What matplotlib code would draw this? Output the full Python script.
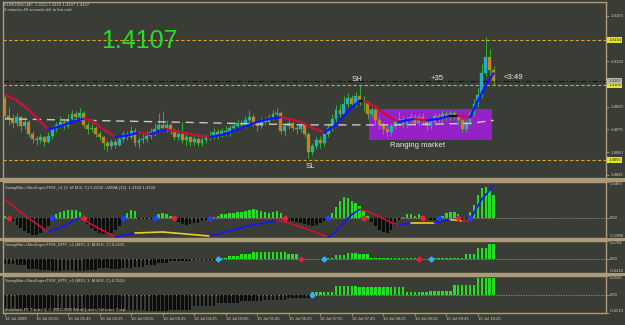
import numpy as np
import matplotlib
matplotlib.use('Agg')
import matplotlib.pyplot as plt
from matplotlib.patches import Rectangle
from matplotlib.collections import LineCollection

plt.rcParams['font.family'] = ['Liberation Sans', 'DejaVu Sans']

BG = '#3a3d36'
TAN = '#ad9a78'
TXT = '#d2cbbb'
WICK = '#2ec82e'
UP = '#22a8e8'
DOWN = '#e8741a'
GREEN = '#22dd22'

# EURUSDm M5, first bar 16 Jul 00:25
first_open = 1.4096
closes = [1.4084, 1.4082, 1.4079, 1.4083, 1.4077, 1.4080, 1.4072, 1.4069, 1.4068, 1.4070,
          1.4067, 1.4071, 1.4075, 1.4078, 1.4080, 1.4077, 1.4082, 1.4085, 1.4083, 1.4086,
          1.4078, 1.4075, 1.4076, 1.4072, 1.4070, 1.4066, 1.4064, 1.4067, 1.4065, 1.4069,
          1.4072, 1.4070, 1.4074, 1.4066, 1.4068, 1.4069, 1.4071, 1.4073, 1.4075, 1.4078,
          1.4076, 1.4078, 1.4074, 1.4070, 1.4072, 1.4068, 1.4070, 1.4067, 1.4069, 1.4066,
          1.4068, 1.4070, 1.4071, 1.4073, 1.4071, 1.4074, 1.4073, 1.4076, 1.4077, 1.4079,
          1.4078, 1.4081, 1.4083, 1.4079, 1.4077, 1.4081, 1.4080, 1.4083, 1.4085, 1.4086,
          1.4074, 1.4077, 1.4079, 1.4076, 1.4075, 1.4078, 1.4072, 1.4060, 1.4064, 1.4068,
          1.4066, 1.4072, 1.4076, 1.4082, 1.4088, 1.4085, 1.4092, 1.4096, 1.4092, 1.4097,
          1.4094, 1.4093, 1.4085, 1.4088, 1.4081, 1.4078, 1.4075, 1.4073, 1.4077, 1.4080,
          1.4082, 1.4078, 1.4081, 1.4083, 1.4079, 1.4083, 1.4081, 1.4077, 1.4080, 1.4084,
          1.4082, 1.4085, 1.4083, 1.4086, 1.4084, 1.4081, 1.4075, 1.4080, 1.4086, 1.4092,
          1.4098, 1.4112, 1.4123, 1.4114, 1.4107]
highs = [1.4098, 1.4090, 1.4085, 1.4086, 1.4084, 1.4083, 1.4081, 1.4074, 1.4071, 1.4072,
         1.4071, 1.4073, 1.4077, 1.4080, 1.4084, 1.4082, 1.4085, 1.4088, 1.4087, 1.4089,
         1.4087, 1.4080, 1.4079, 1.4077, 1.4074, 1.4071, 1.4068, 1.4069, 1.4069, 1.4071,
         1.4074, 1.4074, 1.4077, 1.4076, 1.4070, 1.4072, 1.4074, 1.4076, 1.4079, 1.4086,
         1.4087, 1.4081, 1.4079, 1.4076, 1.4075, 1.4080, 1.4072, 1.4071, 1.4071, 1.4070,
         1.4070, 1.4072, 1.4074, 1.4076, 1.4075, 1.4076, 1.4077, 1.4078, 1.4080, 1.4082,
         1.4081, 1.4084, 1.4088, 1.4085, 1.4081, 1.4083, 1.4083, 1.4085, 1.4088, 1.4089,
         1.4087, 1.4079, 1.4081, 1.4080, 1.4078, 1.4080, 1.4079, 1.4073, 1.4066, 1.4070,
         1.4071, 1.4074, 1.4079, 1.4085, 1.4091, 1.4092, 1.4097, 1.4099, 1.4098, 1.4100,
         1.4104, 1.4097, 1.4094, 1.4090, 1.4089, 1.4083, 1.4080, 1.4077, 1.4079, 1.4083,
         1.4087, 1.4084, 1.4083, 1.4086, 1.4085, 1.4085, 1.4086, 1.4082, 1.4082, 1.4086,
         1.4086, 1.4088, 1.4087, 1.4088, 1.4087, 1.4085, 1.4082, 1.4082, 1.4088, 1.4095,
         1.4102, 1.4118, 1.4136, 1.4128, 1.4117]
lows = [1.4081, 1.4078, 1.4076, 1.4077, 1.4074, 1.4075, 1.4070, 1.4066, 1.4065, 1.4066,
        1.4064, 1.4066, 1.4069, 1.4073, 1.4076, 1.4075, 1.4076, 1.4080, 1.4081, 1.4082,
        1.4076, 1.4072, 1.4073, 1.4070, 1.4068, 1.4062, 1.4061, 1.4062, 1.4063, 1.4064,
        1.4067, 1.4068, 1.4069, 1.4064, 1.4063, 1.4066, 1.4067, 1.4069, 1.4071, 1.4073,
        1.4074, 1.4073, 1.4072, 1.4068, 1.4068, 1.4066, 1.4065, 1.4064, 1.4065, 1.4064,
        1.4064, 1.4066, 1.4068, 1.4069, 1.4069, 1.4070, 1.4071, 1.4071, 1.4074, 1.4075,
        1.4076, 1.4076, 1.4079, 1.4077, 1.4074, 1.4076, 1.4078, 1.4079, 1.4081, 1.4083,
        1.4072, 1.4071, 1.4075, 1.4074, 1.4072, 1.4073, 1.4070, 1.4056, 1.4058, 1.4062,
        1.4063, 1.4064, 1.4070, 1.4074, 1.4080, 1.4083, 1.4084, 1.4090, 1.4089, 1.4090,
        1.4091, 1.4087, 1.4082, 1.4083, 1.4078, 1.4075, 1.4072, 1.4070, 1.4071, 1.4075,
        1.4078, 1.4076, 1.4076, 1.4079, 1.4077, 1.4077, 1.4078, 1.4074, 1.4075, 1.4078,
        1.4080, 1.4080, 1.4081, 1.4081, 1.4082, 1.4078, 1.4073, 1.4073, 1.4078, 1.4084,
        1.4090, 1.4096, 1.4110, 1.4110, 1.4104]

# fast smoothed MA (coloured by direction)
ma_bars = [0, 3, 6, 9, 11, 14, 17, 20, 22, 25, 28, 31, 34, 37, 41, 45, 49, 52, 56, 60,
           64, 67, 70, 72, 75, 78, 81, 84, 87, 90, 91, 94, 97, 100, 104, 107, 110, 113,
           115, 118, 120, 122, 124]
ma_vals = [1.4098, 1.4094, 1.4088, 1.4080, 1.4075, 1.4077, 1.4080, 1.4082, 1.4081, 1.4075,
           1.4070, 1.4071, 1.4073, 1.4072, 1.4075, 1.4073, 1.4071, 1.4070, 1.4072, 1.4076,
           1.4080, 1.4082, 1.4083, 1.4082, 1.4080, 1.4076, 1.4073, 1.4078, 1.4087, 1.4094,
           1.4094, 1.4090, 1.4084, 1.4080, 1.4082, 1.4081, 1.4082, 1.4084, 1.4084, 1.4083,
           1.4094, 1.4104, 1.4112]
# slow MA (grey dashed)
sma_bars = [0, 40, 76, 100, 118, 124]
sma_vals = [1.4082, 1.4080, 1.4078, 1.4078, 1.4079, 1.4081]

levels = [1.4134, 1.4104, 1.4055]
bid = 1.4107
price_ticks = [1.4150, 1.4120, 1.4090, 1.4075, 1.4060, 1.4045]

# UltraSuperTRIX M5
trix = [0.02, 0.01, -0.03, -0.07, -0.10, -0.13, -0.15, -0.17, -0.17, -0.15, -0.12, -0.08, -0.03,
        0.03, 0.05, 0.06, 0.07, 0.07, 0.07, 0.05,
        -0.02, -0.06, -0.10, -0.13, -0.15, -0.16, -0.16, -0.15, -0.12, -0.08, -0.03,
        0.04, 0.07, 0.06,
        -0.01, -0.01, -0.01, -0.01, 0.01,
        0.03, 0.04, 0.03, 0.02,
        -0.02, -0.04, -0.06, -0.07, -0.06, -0.05, -0.05, -0.03, -0.02, -0.01,
        0.01, 0.02, 0.03, 0.03, 0.04, 0.04, 0.05, 0.05, 0.06, 0.07, 0.08, 0.07, 0.06, 0.05,
        0.04, 0.05, 0.06, 0.04,
        -0.02, -0.03, -0.03, -0.04, -0.05, -0.06, -0.07, -0.08, -0.07, -0.05, -0.03, -0.01,
        0.04, 0.10, 0.16, 0.20, 0.19, 0.16, 0.14, 0.11, 0.07, 0.02,
        -0.04, -0.08, -0.12, -0.14, -0.15, -0.12, -0.07, -0.02,
        0.01, 0.03, 0.03, 0.02, 0.03, 0.02,
        -0.01, -0.02, -0.02, -0.01,
        0.02, 0.04, 0.05, 0.05, 0.03,
        -0.02, -0.01,
        0.05, 0.12, 0.22, 0.29, 0.30, 0.27, 0.22]
lwma_bars = [0, 5, 11, 15, 19, 23, 28, 33, 40, 43, 52, 58, 63, 69, 71, 75, 82, 83, 86, 88,
             90, 92, 95, 98, 100, 103, 109, 113, 116, 118, 119, 121, 124]
lwma_vals = [0.18, 0.02, -0.14, -0.08, 0.00, -0.09, -0.19, -0.15, -0.14, -0.15, -0.18, -0.12,
             -0.07, -0.03, -0.04, -0.09, -0.19, -0.17, -0.05, 0.03, 0.08, 0.06, 0.01, -0.05,
             -0.07, -0.05, -0.05, -0.02, -0.03, -0.04, 0.05, 0.18, 0.31]
trix_up = [12, 30, 38, 52, 82, 110, 118]
trix_dn = [1, 20, 43, 71, 91, 106, 115]

# MTF versions: one value per M15 / M30 candle
m15_vals = [-0.08, -0.10, -0.16, -0.18, -0.19, -0.18, -0.19, -0.17, -0.15, -0.16, -0.14,
            -0.12, -0.10, -0.06, -0.04, -0.03, -0.02, -0.02, 0.02, 0.04, 0.08, 0.10, 0.11,
            0.10, 0.07, -0.01, -0.01, 0.02, 0.06, 0.09, 0.07, 0.02, 0.01, 0.01, 0.01, -0.01,
            0.01, 0.01, 0.02, 0.07, 0.17, 0.23]
m15_up = [54, 81, 108]
m15_dn = [75, 105]
m30_vals = [-0.21, -0.22, -0.22, -0.23, -0.22, -0.21, -0.22, -0.21, -0.16, -0.11, -0.09,
            -0.08, -0.05, 0.03, 0.12, 0.10, 0.10, 0.04, 0.05, 0.13, 0.23]
m30_up = [78]

time_labels = ['16 Jul 2009', '16 Jul 01:05', '16 Jul 01:45', '16 Jul 02:25', '16 Jul 03:05',
               '16 Jul 03:45', '16 Jul 04:25', '16 Jul 05:05', '16 Jul 05:45', '16 Jul 06:25',
               '16 Jul 07:05', '16 Jul 07:45', '16 Jul 08:25', '16 Jul 09:05', '16 Jul 09:45',
               '16 Jul 10:25']

W, H = 625, 325
fig = plt.figure(figsize=(W / 100, H / 100), dpi=100, facecolor=BG)


def px_box(x0, y0, x1, y1):
    return [x0 / W, 1 - y1 / H, (x1 - x0) / W, (y1 - y0) / H]


def band(x0, y0, x1, y1):
    fig.add_artist(Rectangle((x0 / W, 1 - y1 / H), (x1 - x0) / W, (y1 - y0) / H,
                             transform=fig.transFigure, color=TAN, lw=0))


ax = fig.add_axes(px_box(3, 2, 606, 178))
ax2 = fig.add_axes(px_box(3, 182, 606, 238), sharex=ax)
ax3 = fig.add_axes(px_box(3, 241, 606, 273), sharex=ax)
ax4 = fig.add_axes(px_box(3, 276, 606, 313), sharex=ax)
band(0, 178, 625, 182)
band(0, 238, 625, 241)
band(0, 273, 625, 276)

for a in (ax, ax2, ax3, ax4):
    a.set_facecolor(BG)
    for s in a.spines.values():
        s.set_color(TAN)
        s.set_linewidth(1.0)
    a.yaxis.tick_right()
    a.tick_params(axis='y', colors=TAN, labelcolor=TXT, labelsize=3.1, length=2,
                  width=0.6, pad=1)
    a.tick_params(axis='x', bottom=False, labelbottom=False)

N = len(closes)
x = np.arange(N)
c = np.array(closes)
o = np.array([first_open] + closes[:-1])
hi = np.array(highs)
lo = np.array(lows)

ax.set_xlim(-0.5, 152.5)
ax.set_ylim(1.40430, 1.41590)


def coloured_line(a, bx, vals, up, down, flat, tol, lw):
    bx = np.asarray(bx, float)
    vals = np.asarray(vals, float)
    pts = np.column_stack([bx, vals])
    segs = np.stack([pts[:-1], pts[1:]], axis=1)
    slope = np.diff(vals) / np.diff(bx)
    cols = [up if s > tol else (down if s < -tol else flat) for s in slope]
    a.add_collection(LineCollection(segs, colors=cols, linewidths=lw, zorder=6,
                                    capstyle='round'))


# ranging-market box
ax.add_patch(Rectangle((92.4, 1.40683), 31.2, 0.0020, color='#9620c8', lw=0, zorder=1))

for lv in levels:
    ax.axhline(lv, color='#e0a030', lw=0.8, ls=(0, (3, 2)), zorder=2)
ax.axhline(bid, color='#111111', lw=0.8, ls=(0, (5, 2, 1, 2)), zorder=2)

# candles
ax.vlines(x, lo, hi, color=WICK, lw=0.6, zorder=3)
up = c >= o
ax.bar(x[up], (c - o)[up], bottom=o[up], width=0.72, color=UP, edgecolor=WICK,
       linewidth=0.25, zorder=4)
ax.bar(x[~up], (o - c)[~up], bottom=c[~up], width=0.72, color=DOWN, edgecolor=WICK,
       linewidth=0.25, zorder=4)

ax.plot(sma_bars, sma_vals, color='#c8c8c8', lw=1.0, ls=(0, (6, 4)), zorder=5)
coloured_line(ax, ma_bars, ma_vals, '#1414ff', '#c8103c', '#111111', 1e-6, 1.7)

ax.set_yticks(price_ticks)
ax.set_yticklabels([f'{p:.4f}' for p in price_ticks])
ytr = ax.get_yaxis_transform()
for lv in levels:
    ax.text(1.004, lv, f'{lv:.4f}', transform=ytr, fontsize=3.1, color='#303000',
            va='center', ha='left', clip_on=False,
            bbox=dict(fc='#e4e42a', ec='none', pad=0.7))
ax.text(1.004, bid, f'{bid:.4f}', transform=ytr, fontsize=3.1, color='#303030',
        va='center', ha='left', clip_on=False,
        bbox=dict(fc='#bdb8a8', ec='none', pad=0.7))

lab = dict(fontsize=5.6, color='#e8e8e8', ha='center', va='center', zorder=8)
ax.text(89.3, 1.41077, 'SH', **lab)
ax.text(77.4, 1.40503, 'SL', **lab)
ax.text(109.6, 1.41083, '+35', **lab)
ax.text(129.0, 1.41090, '<3:49', **lab)
ax.text(104.6, 1.40643, 'Ranging market', **lab)

fig.text(4 / W, 1 - 5 / H, 'EURUSDm,M5  1.4112 1.4116 1.4107 1.4107', fontsize=3.1,
         color=TXT, va='center', ha='left')
fig.text(4 / W, 1 - 10 / H, '3 minutes 49 seconds left to bar end', fontsize=3.1,
         color=TXT, va='center', ha='left')
fig.text(139 / W, 1 - 41 / H, '1.4107', fontsize=18, color='#22e022', va='center',
         ha='center')

# panel 2
t = np.array(trix)
ax2.set_ylim(-0.1986, 0.3460)
ax2.axhline(0, color='#9a9a8a', lw=0.6, ls=(0, (1.5, 1.5)), zorder=1)
ax2.bar(x, t, width=0.65, color=np.where(t >= 0, GREEN, '#0c0c0c'), lw=0, zorder=2)
coloured_line(ax2, lwma_bars, lwma_vals, '#1414ff', '#d0102c', '#e8d020', 0.004, 1.2)
ax2.plot(trix_up, np.zeros(len(trix_up)), ls='none', marker='P', ms=3.2, color='#2040ff',
         zorder=7)
ax2.plot(trix_dn, np.zeros(len(trix_dn)), ls='none', marker='P', ms=3.2, color='#e8203a',
         zorder=7)
ax2.text(0.004, 0.93, 'SwingMan UltraSuperTRIX_v1 (3, M.M.E, C) 0.2238  LWMA (12)  '
         '1.4104 1.4104', transform=ax2.transAxes, fontsize=3.1, color=TXT, va='top')

# panels 3 and 4
m15 = np.repeat(m15_vals, 3)[:N]
m30 = np.repeat(m30_vals, 6)[:N]
for a, vals, lim, ups, dns, title in (
        (ax3, m15, (-0.2212, 0.2782), m15_up, m15_dn,
         'SwingMan UltraSuperTRIX_MTF_v1 (M15, 3, M.M.E, C) 0.2535'),
        (ax4, m30, (-0.2513, 0.2535), m30_up, [],
         'SwingMan UltraSuperTRIX_MTF_v1 (M30, 3, M.M.E, C) 0.1524')):
    a.set_ylim(*lim)
    a.axhline(0, color='#9a9a8a', lw=0.6, ls=(0, (1.5, 1.5)), zorder=1)
    a.bar(x, vals, width=0.65, color=np.where(vals >= 0, GREEN, '#0c0c0c'), lw=0, zorder=2)
    a.plot(ups, np.zeros(len(ups)), ls='none', marker='P', ms=3.2, color='#40a8ff', zorder=7)
    a.plot(dns, np.zeros(len(dns)), ls='none', marker='P', ms=3.2, color='#e02040', zorder=7)
    a.text(0.004, 0.93, title, transform=a.transAxes, fontsize=3.1, color=TXT, va='top')

for a, lim, labels in ((ax2, (-0.1986, 0.3460), ['-0.1986', '0.00', '0.3460']),
                       (ax3, (-0.2212, 0.2782), ['-0.2212', '0.00', '0.2782']),
                       (ax4, (-0.2513, 0.2535), ['-0.2513', '0.00', '0.2535'])):
    a.set_yticks([lim[0], 0, lim[1]])
    a.set_yticklabels(labels)
    tl = a.get_yticklabels()
    tl[0].set_va('bottom')
    tl[-1].set_va('top')

ax4.text(0.004, 0.03, 'Interbank FX Trader 4, \u00a9 2001-2009 MetaQuotes Software Corp.',
         transform=ax4.transAxes, fontsize=3.1, color=TXT, va='bottom')

ax4.tick_params(axis='x', bottom=True, labelbottom=True, colors=TAN, labelcolor=TXT,
                labelsize=3.1, length=2, width=0.6, pad=1)
ax4.set_xticks(np.arange(0, 8 * len(time_labels), 8))
ax4.set_xticklabels(time_labels, ha='left')

fig.savefig('out.png', dpi=100, facecolor=BG)
